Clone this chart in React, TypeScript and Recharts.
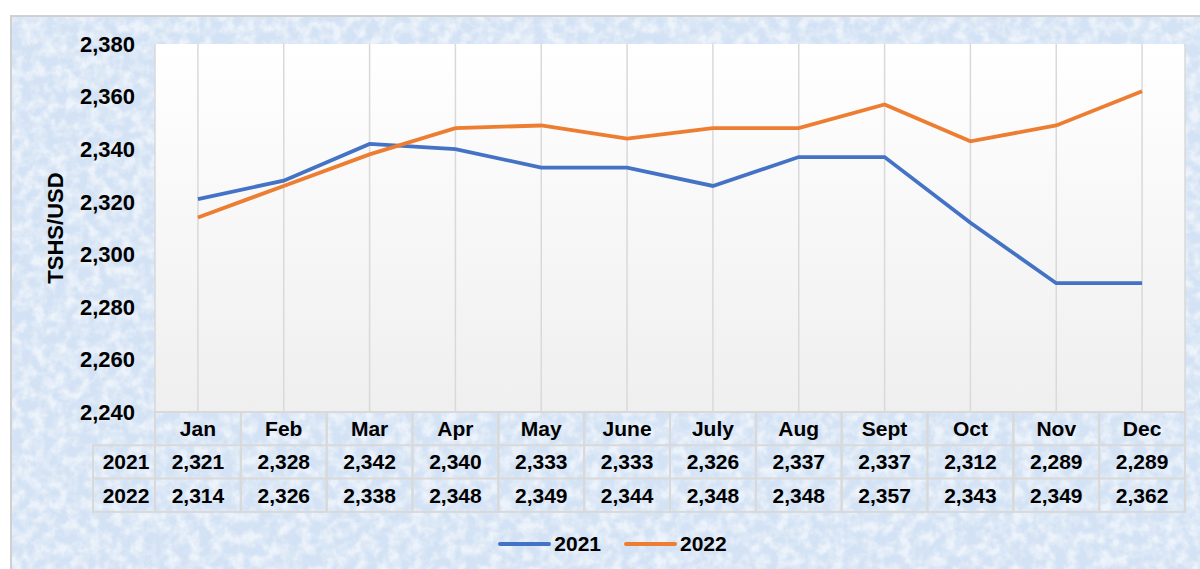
import React from 'react';
import { LineChart, Line, XAxis, YAxis, CartesianGrid, Legend } from 'recharts';

// Monthly exchange rate, TSHS per USD
const MONTHS = ['Jan', 'Feb', 'Mar', 'Apr', 'May', 'June', 'July', 'Aug', 'Sept', 'Oct', 'Nov', 'Dec'];
const RATES_2021 = [2321, 2328, 2342, 2340, 2333, 2333, 2326, 2337, 2337, 2312, 2289, 2289];
const RATES_2022 = [2314, 2326, 2338, 2348, 2349, 2344, 2348, 2348, 2357, 2343, 2349, 2362];
const Y_TICKS = [2240, 2260, 2280, 2300, 2320, 2340, 2360, 2380];

const SERIES = [
  { name: '2021', values: RATES_2021, color: '#4472C4' },
  { name: '2022', values: RATES_2022, color: '#ED7D31' },
];

const FONT = '"Liberation Sans", Arial, Helvetica, sans-serif';
const WIDTH = 1200;
const HEIGHT = 569;
const Y_AXIS_W = 155;
const RIGHT = 15;
const PLOT_W = WIDTH - Y_AXIS_W - RIGHT;
const CELL_W = PLOT_W / MONTHS.length;
const ROW_H = 33.3;
const LABEL_COL_W = 62;
const BORDER = '#d9d9d9';

const chartData = MONTHS.map((month, i) => {
  const row: Record<string, string | number> = { month };
  SERIES.forEach((s) => {
    row[s.name] = s.values[i];
  });
  return row;
});

const fmt = (v: number) => v.toLocaleString('en-US');

const textProps = {
  fontFamily: FONT,
  fontWeight: 'bold' as const,
  fontSize: 21,
  fill: '#000',
  textAnchor: 'middle' as const,
  dominantBaseline: 'central' as const,
};

// X axis tick drawn as one column of the data table
function TableTick(props: any) {
  const { x, y, payload, index } = props;
  const left = x - CELL_W / 2;
  return (
    <g>
      <rect x={left} y={y} width={CELL_W} height={ROW_H * 3} fill="none" stroke={BORDER} strokeWidth={2} />
      <line x1={left} x2={left + CELL_W} y1={y + ROW_H} y2={y + ROW_H} stroke={BORDER} strokeWidth={2} />
      <line x1={left} x2={left + CELL_W} y1={y + ROW_H * 2} y2={y + ROW_H * 2} stroke={BORDER} strokeWidth={2} />
      <text {...textProps} x={x} y={y + ROW_H / 2}>
        {payload.value}
      </text>
      {SERIES.map((s, k) => (
        <text key={s.name} {...textProps} x={x} y={y + ROW_H * (k + 1.5)}>
          {fmt(s.values[index])}
        </text>
      ))}
      {index === 0 && (
        <g>
          <rect
            x={left - LABEL_COL_W}
            y={y + ROW_H}
            width={LABEL_COL_W}
            height={ROW_H * 2}
            fill="none"
            stroke={BORDER}
            strokeWidth={2}
          />
          <line
            x1={left - LABEL_COL_W}
            x2={left}
            y1={y + ROW_H * 2}
            y2={y + ROW_H * 2}
            stroke={BORDER}
            strokeWidth={2}
          />
          {SERIES.map((s, k) => (
            <text key={s.name} {...textProps} x={left - LABEL_COL_W / 2 + 2} y={y + ROW_H * (k + 1.5)}>
              {s.name}
            </text>
          ))}
        </g>
      )}
    </g>
  );
}

function YTitle(props: any) {
  const { viewBox } = props;
  const cx = 55;
  const cy = viewBox.y + viewBox.height / 2;
  return (
    <text
      x={cx}
      y={cy}
      transform={`rotate(-90 ${cx} ${cy})`}
      textAnchor="middle"
      dominantBaseline="central"
      fontFamily={FONT}
      fontWeight="bold"
      fontSize={22}
      fill="#000"
    >
      TSHS/USD
    </text>
  );
}

function LegendContent() {
  return (
    <div
      style={{
        height: 54,
        display: 'flex',
        alignItems: 'center',
        justifyContent: 'center',
        paddingTop: 4,
        paddingLeft: 40,
        boxSizing: 'border-box',
        gap: 23,
        fontFamily: FONT,
        fontWeight: 'bold',
        fontSize: 21,
      }}
    >
      {SERIES.map((s) => (
        <div key={s.name} style={{ display: 'flex', alignItems: 'center', gap: 3 }}>
          <span style={{ width: 53, height: 4, borderRadius: 2, background: s.color, display: 'inline-block' }} />
          <span>{s.name}</span>
        </div>
      ))}
    </div>
  );
}

export default function App() {
  return (
    <div style={{ position: 'absolute', left: 0, top: 0, width: WIDTH, height: HEIGHT, overflow: 'hidden', background: '#fff' }}>
      {/* textured light-blue chart frame */}
      <svg width={WIDTH} height={HEIGHT} style={{ position: 'absolute', left: 0, top: 0 }}>
        <defs>
          <filter id="mottle" x="0" y="0" width="100%" height="100%">
            <feTurbulence type="fractalNoise" baseFrequency="0.09" numOctaves={3} seed={7} />
            <feColorMatrix type="matrix" values="0 0 0 0 1  0 0 0 0 1  0 0 0 0 1  0 0 0 2.4 -0.85" />
          </filter>
        </defs>
        <rect x={11} y={16} width={WIDTH} height={HEIGHT} fill="#d3e2f4" stroke="#d0d0d0" strokeWidth={2} />
        <rect x={12} y={17} width={WIDTH} height={HEIGHT} filter="url(#mottle)" opacity={0.6} />
      </svg>
      <div style={{ position: 'absolute', left: 0, top: 0 }}>
        <LineChart width={WIDTH} height={HEIGHT} data={chartData} margin={{ top: 44, right: RIGHT, left: 0, bottom: 0 }}>
          <defs>
            <linearGradient id="plotBg" x1="0" y1="0" x2="0" y2="1">
              <stop offset="0%" stopColor="#ffffff" />
              <stop offset="100%" stopColor="#efefef" />
            </linearGradient>
          </defs>
          <CartesianGrid horizontal={false} stroke={BORDER} strokeWidth={1.5} fill="url(#plotBg)" />
          <XAxis
            dataKey="month"
            height={103}
            padding={{ left: CELL_W / 2, right: CELL_W / 2 }}
            axisLine={false}
            tickLine={false}
            tickSize={0}
            tickMargin={0}
            interval={0}
            tick={<TableTick />}
          />
          <YAxis
            width={Y_AXIS_W}
            domain={[2240, 2380]}
            ticks={Y_TICKS}
            axisLine={false}
            tickLine={false}
            tickSize={6}
            tickMargin={14}
            tickFormatter={fmt}
            tick={{ fontFamily: FONT, fontWeight: 'bold', fontSize: 22, fill: '#000' }}
            label={<YTitle />}
          />
          <Legend verticalAlign="bottom" content={<LegendContent />} wrapperStyle={{ margin: 0, padding: 0 }} />
          {SERIES.map((s) => (
            <Line
              key={s.name}
              type="linear"
              dataKey={s.name}
              stroke={s.color}
              strokeWidth={3.8}
              dot={false}
              isAnimationActive={false}
            />
          ))}
        </LineChart>
      </div>
    </div>
  );
}
